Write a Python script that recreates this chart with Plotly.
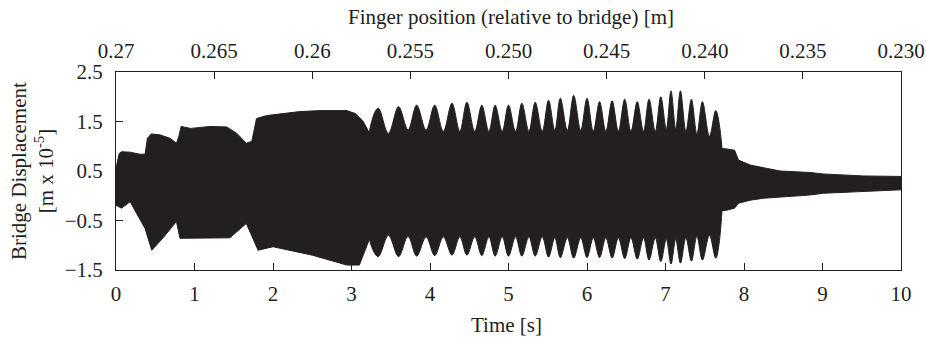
import plotly.graph_objects as go

# ---- data (time [s], displacement [m x 1e-5]) ----
# dense section before the beating starts
early_t_up = [0.0, 0.04, 0.07, 0.18, 0.30, 0.37, 0.40, 0.45, 0.56, 0.69, 0.77, 0.80, 0.83, 0.95, 1.20, 1.41, 1.54, 1.66, 1.73, 1.79, 1.92, 2.34, 2.60, 2.94, 3.05, 3.15, 3.24]
early_up = [0.55, 0.85, 0.89, 0.88, 0.84, 0.84, 1.16, 1.25, 1.23, 1.16, 1.06, 1.20, 1.40, 1.36, 1.40, 1.39, 1.26, 1.06, 1.10, 1.56, 1.62, 1.70, 1.72, 1.72, 1.66, 1.50, 1.23]
early_t_lo = [0.0, 0.07, 0.18, 0.26, 0.37, 0.455, 0.60, 0.77, 0.815, 1.00, 1.45, 1.66, 1.81, 2.00, 2.50, 2.94, 3.10, 3.24]
early_lo = [-0.19, -0.25, -0.12, -0.35, -0.66, -1.10, -0.85, -0.52, -0.86, -0.86, -0.85, -0.56, -1.10, -1.03, -1.20, -1.40, -1.40, -0.83]

# beating section: lobe maxima and the gaps between them
lobe_t = [3.34, 3.60, 3.83, 4.06, 4.28, 4.47, 4.66, 4.83, 5.00, 5.17, 5.34, 5.51, 5.66, 5.83, 6.00, 6.16, 6.32, 6.48, 6.64, 6.79, 6.94, 7.07, 7.19, 7.33, 7.47, 7.64]
lobe_top = [1.77, 1.80, 1.83, 1.83, 1.87, 1.89, 1.83, 1.83, 1.83, 1.87, 1.89, 1.93, 1.97, 2.03, 1.97, 1.90, 1.92, 1.95, 1.90, 1.95, 2.00, 2.12, 2.12, 1.95, 1.90, 1.72]
lobe_bot = [-1.23, -1.23, -1.22, -1.21, -1.20, -1.20, -1.21, -1.22, -1.22, -1.22, -1.22, -1.24, -1.25, -1.26, -1.25, -1.25, -1.26, -1.27, -1.28, -1.30, -1.33, -1.38, -1.36, -1.32, -1.30, -1.26]
gap_t = [3.22, 3.47, 3.72, 3.95, 4.17, 4.38, 4.57, 4.75, 4.92, 5.09, 5.26, 5.43, 5.59, 5.75, 5.92, 6.08, 6.24, 6.40, 6.56, 6.72, 6.87, 7.01, 7.13, 7.26, 7.40, 7.56, 7.72]
gap_top = [1.23, 1.26, 1.33, 1.33, 1.30, 1.30, 1.30, 1.30, 1.30, 1.30, 1.30, 1.30, 1.32, 1.32, 1.32, 1.30, 1.30, 1.30, 1.30, 1.30, 1.30, 1.35, 1.35, 1.30, 1.25, 1.20, 0.95]
gap_bot = [-0.83, -0.80, -0.82, -0.83, -0.83, -0.83, -0.83, -0.83, -0.83, -0.83, -0.83, -0.83, -0.85, -0.85, -0.85, -0.85, -0.85, -0.85, -0.85, -0.85, -0.85, -0.88, -0.88, -0.85, -0.82, -0.80, -0.30]

# decaying tail after the finger leaves
tail_t = [7.72, 7.76, 7.88, 7.93, 8.08, 8.25, 8.46, 8.84, 9.01, 9.52, 10.0]
tail_up = [0.95, 0.95, 0.92, 0.72, 0.62, 0.57, 0.50, 0.47, 0.44, 0.40, 0.39]
tail_lo = [-0.30, -0.30, -0.25, -0.15, -0.09, -0.05, -0.02, 0.015, 0.05, 0.08, 0.12]

# top axis: finger position
pos_vals = [0.27, 0.265, 0.26, 0.255, 0.250, 0.245, 0.240, 0.235, 0.230]
pos_text = ["0.27", "0.265", "0.26", "0.255", "0.250", "0.245", "0.240", "0.235", "0.230"]
y_ticks = [-1.5, -0.5, 0.5, 1.5, 2.5]
x_ticks = [0, 1, 2, 3, 4, 5, 6, 7, 8, 9, 10]

INK = "#231f20"
FONT = "Liberation Serif, Times New Roman, serif"
FS = 21


def polygon(tu, yu, tl, yl):
    return list(tu) + list(tl)[::-1] + [tu[0]], list(yu) + list(yl)[::-1] + [yu[0]]


# interleave gaps and lobes
beat_t, beat_up, beat_lo = [], [], []
for i in range(len(lobe_t)):
    beat_t += [gap_t[i], lobe_t[i]]
    beat_up += [gap_top[i], lobe_top[i]]
    beat_lo += [gap_bot[i], lobe_bot[i]]
beat_t.append(gap_t[-1])
beat_up.append(gap_top[-1])
beat_lo.append(gap_bot[-1])

fig = go.Figure()
for (tu, yu, tl, yl, shape) in [
    (early_t_up, early_up, early_t_lo, early_lo, "linear"),
    (beat_t, beat_up, beat_t, beat_lo, "spline"),
    (tail_t, tail_up, tail_t, tail_lo, "linear"),
]:
    px_, py_ = polygon(tu, yu, tl, yl)
    fig.add_trace(go.Scatter(x=px_, y=py_, mode="lines", fill="toself",
                             fillcolor=INK, line=dict(color=INK, width=1, shape=shape),
                             hoverinfo="skip", showlegend=False))

# invisible trace on the top axis
fig.add_trace(go.Scatter(x=[pos_vals[0], pos_vals[-1]], y=[0, 0], xaxis="x2", mode="markers",
                         marker=dict(opacity=0), showlegend=False, hoverinfo="skip"))

tickfont = dict(family=FONT, size=FS, color=INK)
common = dict(ticks="inside", ticklen=7, tickcolor=INK, tickwidth=1, showline=True, linecolor=INK,
              linewidth=1, showgrid=False, zeroline=False, tickfont=tickfont, automargin=False)
fig.update_layout(
    width=926, height=342,
    margin=dict(l=116, r=25, t=72, b=72, autoexpand=False),
    paper_bgcolor="white", plot_bgcolor="white",
    xaxis=dict(range=[0, 10], tickvals=x_ticks, ticklabelstandoff=5, **common),
    xaxis2=dict(range=[0.27, 0.23], overlaying="x", side="top", tickvals=pos_vals, ticktext=pos_text,
                ticklabelstandoff=5, **common),
    yaxis=dict(range=[-1.5, 2.5], tickvals=y_ticks, mirror=True, ticklabelstandoff=8, **common),
    annotations=[
        dict(text="Finger position (relative to bridge) [m]", xref="paper", yref="paper",
             x=0.503, y=1.278, xanchor="center", yanchor="middle", showarrow=False,
             font=dict(family=FONT, size=FS, color=INK)),
        dict(text="Time [s]", xref="paper", yref="paper", x=0.497, y=-0.278,
             xanchor="center", yanchor="middle", showarrow=False,
             font=dict(family=FONT, size=FS, color=INK)),
        dict(text="Bridge Displacement<br>[m x 10<sup>-5</sup>]", xref="paper", yref="paper",
             x=-0.107, y=0.5, xanchor="center", yanchor="middle", textangle=-90, showarrow=False,
             font=dict(family=FONT, size=FS, color=INK)),
    ],
)

fig.write_html("out.html")
